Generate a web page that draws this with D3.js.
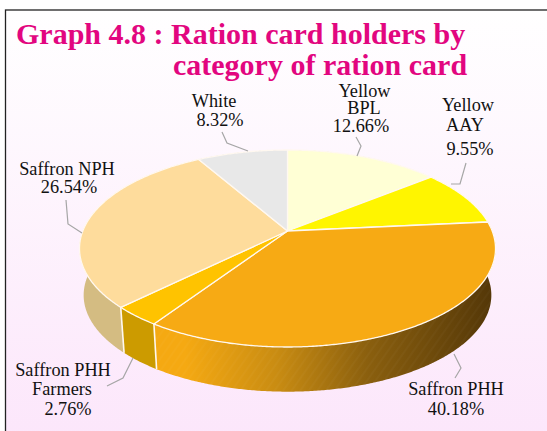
<!DOCTYPE html>
<html><head><meta charset="utf-8">
<script src="https://cdn.jsdelivr.net/npm/d3@7"></script>
<style>html,body{margin:0;padding:0;background:#fff}svg{display:block}</style>
</head><body><div id="chart"></div>
<script>
const categories = ["Yellow BPL","Yellow AAY","Saffron PHH","Saffron PHH Farmers","Saffron NPH","White"];
const values = [12.66,9.55,40.18,2.76,26.54,8.32];
const topColors = ["#FFFFD5","#FFF500","#F7AA14","#FFC300","#FEDC9C","#E8E8E8"];
const wallColors = ["#CFCFA8","#C8C000","url(#phhWall)","#CC9B00","#D4BC82","#B8B8B8"];
const labelLines = [["Yellow","BPL","12.66%"],["Yellow","AAY","9.55%"],["Saffron PHH","40.18%"],["Saffron PHH","Farmers","2.76%"],["Saffron NPH","26.54%"],["White","8.32%"]];
const titleLines = ["Graph 4.8 : Ration card holders by","category of ration card"];

const W=547,H=431;
const svg=d3.select("#chart").append("svg").attr("width",W).attr("height",H);
const defs=svg.append("defs");
const bg=defs.append("linearGradient").attr("id","bg").attr("x1",0).attr("y1",0).attr("x2",0).attr("y2",1);
bg.append("stop").attr("offset",0).attr("stop-color","#FFFFFF");
bg.append("stop").attr("offset",1).attr("stop-color","#FCE6FB");
const wg=defs.append("linearGradient").attr("id","phhWall").attr("gradientUnits","userSpaceOnUse").attr("x1",185).attr("y1",0).attr("x2",490).attr("y2",0);
[[0,"#F5A912"],[0.3,"#C98C12"],[0.6,"#8A5F0E"],[1,"#553808"]].forEach(s=>wg.append("stop").attr("offset",s[0]).attr("stop-color",s[1]));
const hatch=defs.append("pattern").attr("id","hatch").attr("patternUnits","userSpaceOnUse").attr("width",7).attr("height",7).attr("patternTransform","rotate(35)");
hatch.append("rect").attr("width",2).attr("height",7).attr("fill","#fff").attr("opacity",0.025);

svg.append("rect").attr("x",5.5).attr("y",10).attr("width",W).attr("height",H)
  .attr("fill","url(#bg)").attr("stroke","#222").attr("stroke-width",1.3);

// pie angles from the data, clockwise from 12 o'clock
const pie=d3.pie().sort(null).value(d=>d);
const arcs=pie(values);
// calibration of the tilted view: pie angle -> angle shown on the rim
const cum=[0,...d3.cumsum(values)].map(v=>v/d3.sum(values)*2*Math.PI);
const deg=Math.PI/180;
const view=d3.scaleLinear().domain(cum).range([0,51.2,84.5,213.8,225.5,330,360].map(d=>d*deg));

// perspective projection of the pie disc
const cx=287.5,cy=231,A=204.7,B=95.4,k=0.1776,depth=47,shrink=0.98;
function project(t,scale,dy){
  const a=view(t),u=Math.sin(a),v=-Math.cos(a),w=1-k*v;
  return [cx+scale*A*u/w, cy+dy+scale*B*v/w];
}
function rim(a0,a1,scale,dy){
  const n=Math.max(2,Math.ceil((a1-a0)/(0.5*deg)));
  return d3.range(n+1).map(i=>project(a0+(a1-a0)*i/n,scale,dy));
}
const line=d3.line();
const wallPath=d=>{
  const t=rim(d.startAngle,d.endAngle,1,0),b=rim(d.startAngle,d.endAngle,shrink,depth).reverse();
  return line(t.concat(b))+"Z";
};

// walls, back to front
const walls=svg.append("g");
walls.selectAll("path.wall").data(arcs).join("path").attr("class","wall")
  .attr("d",wallPath).attr("fill",(d,i)=>wallColors[i]);
walls.append("path").attr("d",wallPath(arcs[2])).attr("fill","url(#hatch)");
// white seams between the visible walls
walls.selectAll("path.seam").data(arcs.slice(2,4)).join("path").attr("class","seam")
  .attr("d",d=>line([project(d.endAngle,1,0),project(d.endAngle,shrink,depth)]))
  .attr("stroke","#FFF8F0").attr("stroke-width",1.6);

// top faces
svg.append("g").selectAll("path").data(arcs).join("path")
  .attr("d",d=>line([[cx,cy]].concat(rim(d.startAngle,d.endAngle,1,0)))+"Z")
  .attr("fill",(d,i)=>topColors[i]).attr("stroke","#FFF8F0").attr("stroke-width",1.3).attr("stroke-linejoin","round");

// leader lines
const leaders=[[[356,137],[361,146],[357,156]],[[466,163],[460,184],[451,184]],[[454,354],[461,368],[455,378]],[[133,358],[123,378],[107,386]],[[66,200],[68,224],[82,233]],[[222,132],[227,143],[248,151]]];
svg.append("g").selectAll("path").data(leaders).join("path")
  .attr("d",d=>line(d)).attr("fill","none").attr("stroke","#A6A6A6").attr("stroke-width",1.2);

// title
const title=svg.append("g").attr("font-family","'Liberation Serif',serif").attr("font-weight","bold").attr("font-size",30).attr("fill","#E2067F");
title.append("text").attr("x",16).attr("y",44).text(titleLines[0]);
title.append("text").attr("x",173).attr("y",75).text(titleLines[1]);

// labels: per-line centre x and baseline
const labelX=[[364.5,364,361],[468,465,470],[456,456],[63,62,68],[67,69],[214,220]];
const labelY=[[97,114,132],[111,131,155],[395,415],[376,395,415],[175,193],[107,126]];
const lg=svg.append("g").attr("font-family","'Liberation Serif',serif").attr("font-size",18.3).attr("fill","#111").attr("text-anchor","middle");
labelLines.forEach((ls,i)=>{
  ls.forEach((s,j)=>lg.append("text").attr("x",labelX[i][j]).attr("y",labelY[i][j]).text(s));
});
</script></body></html>
